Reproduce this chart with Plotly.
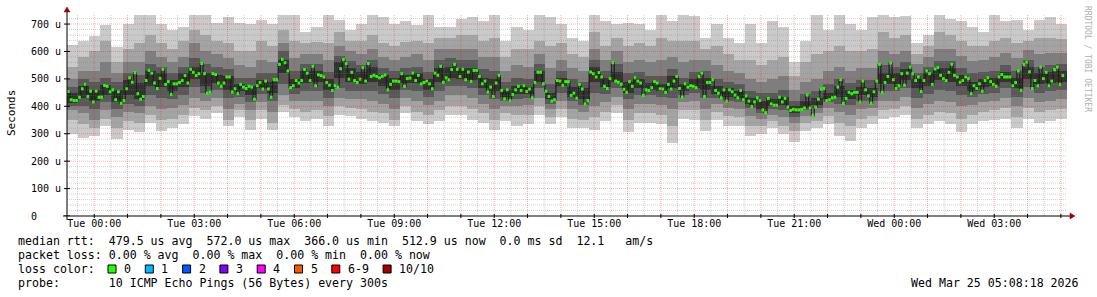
import plotly.graph_objects as go
from datetime import datetime, timedelta

# ---------------- data ----------------
START = datetime(2026, 3, 23, 23, 11, 0)
END = datetime(2026, 3, 25, 5, 11, 0)
STEP_MIN = 5          # one sample every 300 s
CHUNK = 4             # samples per smoke column

# median rtt per 5-minute sample (microseconds)
MEDIAN_US = [
    454, 424, 421, 421, 433, 464, 480, 436, 455, 416,
    455, 433, 433, 476, 473, 453, 460, 424, 453, 411,
    421, 464, 504, 488, 523, 446, 426, 436, 494, 531,
    521, 485, 465, 502, 535, 480, 490, 443, 482, 482,
    487, 494, 512, 485, 535, 524, 512, 519, 556, 519,
    448, 452, 519, 516, 485, 473, 485, 507, 507, 452,
    464,
    446, 480, 470, 465, 473, 470, 426, 475, 487, 463,
    492, 463, 433, 498, 498, 553, 571, 559, 529, 468,
    475, 494, 485, 494, 534, 521, 494, 546, 475, 515,
    512, 507, 487, 477, 458, 475, 470, 537, 571, 556,
    499, 524, 494, 487, 499, 541, 492, 556, 509, 513,
    509, 504, 509, 514, 460, 480, 492, 492, 490, 519,
    473, 501, 503, 521, 494, 513, 482, 487, 492, 482,
    464, 521, 513, 546, 488, 504, 497, 534, 553, 535,
    509, 535, 497, 525, 491, 531, 531, 509, 482, 492,
    452, 470, 436, 485, 513, 458, 427, 460, 421, 443,
    460, 473, 458, 475, 454, 463, 431, 487, 524, 524,
    482, 455, 436, 419, 424, 494, 492, 477, 490, 490,
    440,
    448, 430, 480, 463, 409, 421, 525, 519, 507, 523,
    507, 473, 465, 501, 559, 492, 488, 480, 462, 451,
    490, 473, 504, 492, 485, 440, 460, 458, 468, 490,
    485, 464, 463, 451, 480, 463, 492, 509, 465, 433,
    482, 470, 475, 473, 468, 509, 521, 436, 487, 487,
    497, 458, 448, 431, 460, 419, 460, 453, 441, 431,
    458, 424, 438, 419, 399, 416, 431, 421, 387, 377,
    429, 409, 404, 404, 433, 416, 429, 397, 385, 389,
    387, 387, 389, 394, 441, 394, 365, 397, 426, 463,
    465, 421, 424, 431, 433, 470, 497, 411, 429, 451,
    446, 451, 451, 416, 492, 460, 438, 411, 453, 492,
    553, 451, 487, 509, 558, 497, 465, 475, 519, 477,
    521,
    543, 519, 494, 507, 454, 494, 529, 519, 480, 536,
    541, 513, 501, 494, 524, 553, 513, 507, 488, 494,
    507, 501, 446, 475, 465, 482, 455, 494, 504, 490,
    480, 473, 507, 516, 507, 507, 507, 475, 487, 529,
    458, 553, 561, 526, 465, 494, 475, 543, 501, 524,
    475, 492, 534, 543, 480, 512,
]

# sorted ping values per 20-minute column (microseconds): p1 (min) ... p10 (max)
SMOKE_P1 = [300, 285, 290, 330, 280, 315, 305, 340, 310, 320, 335, 365, 355, 375, 330,
            360, 315, 355, 315, 380, 360, 345, 355, 330, 370, 365, 355, 345, 340, 330,
            375, 345, 335, 345, 370, 370, 350, 340, 315, 345, 330, 335, 370, 335, 360,
            320, 320, 315, 345, 375, 305, 340, 340, 335, 268, 355, 350, 310, 350, 330,
            330, 290, 300, 320, 300, 270, 310, 320, 335, 290, 275, 320, 335, 355, 360,
            370, 320, 335, 345, 335, 305, 335, 345, 350, 355, 320, 355, 340, 345, 355]
SMOKE_P2 = [350, 335, 320, 355, 320, 345, 340, 370, 350, 355, 370, 395, 385, 400, 350,
            385, 350, 385, 340, 405, 390, 380, 385, 365, 400, 395, 390, 380, 375, 350,
            400, 380, 370, 385, 400, 400, 390, 375, 350, 375, 370, 370, 400, 360, 390,
            355, 350, 360, 380, 405, 350, 375, 375, 370, 330, 385, 385, 350, 380, 365,
            360, 330, 330, 345, 330, 310, 340, 345, 365, 340, 330, 355, 365, 385, 390,
            400, 355, 370, 380, 375, 355, 370, 380, 385, 395, 360, 395, 380, 385, 390]
SMOKE_P3 = [385, 375, 350, 385, 360, 380, 375, 400, 390, 395, 405, 430, 420, 430, 390,
            410, 385, 415, 380, 440, 420, 420, 420, 400, 430, 425, 425, 420, 410, 390,
            430, 420, 405, 420, 440, 440, 430, 410, 390, 400, 400, 405, 430, 390, 420,
            390, 380, 400, 415, 435, 390, 410, 410, 405, 390, 415, 420, 390, 410, 395,
            390, 365, 355, 370, 360, 340, 365, 375, 395, 380, 370, 390, 395, 420, 420,
            435, 395, 410, 420, 415, 400, 405, 415, 420, 430, 400, 430, 415, 420, 425]
SMOKE_P4 = [400, 400, 390, 415, 390, 410, 400, 440, 430, 425, 440, 470, 450, 460, 430,
            435, 415, 445, 420, 480, 445, 455, 455, 430, 465, 455, 455, 455, 445, 430,
            460, 455, 435, 455, 475, 475, 465, 440, 425, 420, 425, 430, 465, 410, 450,
            420, 405, 450, 445, 465, 425, 440, 440, 435, 430, 440, 450, 430, 430, 420,
            415, 395, 375, 390, 385, 360, 385, 395, 415, 410, 405, 420, 420, 455, 455,
            465, 430, 445, 460, 455, 440, 435, 445, 450, 465, 435, 470, 450, 455, 460]
SMOKE_P5 = [412, 430, 420, 440, 415, 440, 425, 475, 470, 455, 470, 500, 475, 485, 460,
            455, 440, 465, 450, 520, 465, 485, 490, 460, 505, 490, 480, 490, 475, 460,
            485, 485, 460, 490, 505, 500, 495, 465, 455, 435, 445, 445, 490, 425, 475,
            435, 425, 490, 470, 490, 450, 465, 460, 455, 465, 455, 465, 460, 445, 435,
            430, 410, 390, 400, 405, 375, 395, 405, 425, 435, 425, 440, 435, 480, 480,
            495, 465, 475, 495, 490, 475, 455, 470, 475, 490, 465, 500, 480, 485, 490]
SMOKE_P6 = [450, 475, 460, 478, 460, 495, 485, 530, 520, 495, 520, 545, 520, 515, 510,
            480, 475, 495, 490, 570, 500, 530, 530, 500, 560, 540, 525, 545, 515, 505,
            515, 520, 500, 540, 545, 540, 540, 505, 500, 460, 475, 470, 530, 450, 505,
            470, 465, 545, 505, 525, 490, 500, 485, 480, 510, 480, 500, 505, 475, 465,
            455, 430, 420, 425, 435, 400, 420, 430, 450, 475, 460, 470, 465, 520, 520,
            535, 500, 520, 540, 540, 515, 490, 500, 505, 525, 505, 545, 520, 525, 530]
SMOKE_P7 = [470, 500, 490, 505, 490, 520, 515, 555, 545, 520, 545, 575, 555, 545, 535,
            505, 505, 520, 520, 600, 530, 555, 555, 525, 585, 565, 550, 570, 540, 530,
            540, 545, 525, 570, 575, 570, 570, 535, 530, 490, 505, 500, 555, 480, 530,
            500, 490, 570, 530, 555, 520, 525, 510, 510, 535, 505, 525, 530, 500, 490,
            480, 455, 450, 450, 460, 420, 445, 455, 480, 500, 485, 495, 495, 550, 545,
            560, 520, 545, 565, 565, 540, 520, 525, 530, 550, 530, 570, 545, 550, 555]
SMOKE_P8 = [500, 530, 530, 560, 520, 560, 560, 600, 580, 560, 580, 630, 600, 590, 575,
            550, 545, 570, 560, 630, 575, 590, 590, 570, 620, 600, 590, 610, 580, 570,
            580, 590, 570, 610, 610, 610, 610, 580, 580, 530, 550, 545, 590, 540, 570,
            540, 530, 610, 570, 600, 560, 570, 560, 570, 580, 560, 570, 570, 550, 530,
            520, 500, 490, 500, 510, 460, 490, 500, 530, 545, 530, 540, 540, 600, 590,
            600, 555, 580, 610, 610, 585, 565, 570, 580, 595, 575, 605, 590, 595, 595]
SMOKE_P9 = [545, 580, 600, 640, 560, 610, 630, 660, 630, 610, 640, 680, 660, 640, 630,
            600, 600, 640, 620, 680, 640, 630, 635, 630, 670, 640, 640, 660, 630, 620,
            635, 640, 630, 650, 650, 660, 660, 640, 650, 580, 610, 610, 640, 620, 630,
            590, 580, 670, 620, 650, 620, 630, 620, 650, 640, 640, 640, 610, 620, 590,
            570, 570, 550, 570, 580, 510, 560, 590, 600, 620, 600, 600, 610, 670, 650,
            660, 590, 620, 670, 660, 640, 620, 620, 640, 650, 630, 640, 650, 650, 645]
SMOKE_P10 = [625, 640, 655, 695, 615, 700, 740, 740, 700, 680, 690, 740, 740, 705, 725,
             705, 700, 715, 700, 735, 740, 670, 690, 735, 715, 680, 700, 740, 725, 700,
             710, 695, 735, 690, 690, 720, 725, 710, 740, 640, 690, 680, 735, 725, 700,
             650, 640, 740, 710, 700, 705, 700, 680, 740, 710, 740, 730, 650, 700, 650,
             630, 700, 630, 710, 690, 560, 640, 740, 680, 735, 700, 680, 725, 740, 725,
             730, 630, 660, 735, 720, 710, 690, 670, 740, 710, 715, 680, 715, 725, 700]

Y_TICKS = [0, 100, 200, 300, 400, 500, 600, 700]
Y_TICK_LABELS = ["0", "100 u", "200 u", "300 u", "400 u", "500 u", "600 u", "700 u"]
Y_MAX = 733

X_TICK_TIMES = ["2026-03-24 00:00", "2026-03-24 03:00", "2026-03-24 06:00", "2026-03-24 09:00",
                "2026-03-24 12:00", "2026-03-24 15:00", "2026-03-24 18:00", "2026-03-24 21:00",
                "2026-03-25 00:00", "2026-03-25 03:00"]
X_TICK_LABELS = ["Tue 00:00", "Tue 03:00", "Tue 06:00", "Tue 09:00", "Tue 12:00",
                 "Tue 15:00", "Tue 18:00", "Tue 21:00", "Wed 00:00", "Wed 03:00"]

LOSS_LABELS = ["0", "1", "2", "3", "4", "5", "6-9", "10/10"]
LOSS_COLORS = ["#26ff00", "#00b8ff", "#0059ff", "#7e00ff", "#ff00ff", "#ff5500", "#ff0000", "#a10000"]

LINE_RTT = "median rtt:  479.5 us avg  572.0 us max  366.0 us min  512.9 us now  0.0 ms sd  12.1   am/s"
LINE_LOSS = "packet loss: 0.00 % avg  0.00 % max  0.00 % min  0.00 % now"
LINE_PROBE = "probe:       10 ICMP Echo Pings (56 Bytes) every 300s"
STAMP = "Wed Mar 25 05:08:18 2026"

# ---------------- style ----------------
SMOKE_GREYS = ["#cacaca", "#a4a4a4", "#7e7e7e", "#585858", "#323232"]
MONO = "DejaVu Sans Mono"
W, H = 1097, 297
L, R, T, B = 67, 30, 15, 81
PW, PH = W - L - R, H - T - B
GRID_MAJOR = "rgba(255,0,0,0.32)"
GRID_MINOR = "rgba(128,128,128,0.36)"


def PX(px):
    return (px - L) / PW


def PY(py):
    return (T + PH - py) / PH


def nb(s):
    return s.replace(" ", "\u00a0")


step = timedelta(minutes=STEP_MIN)
smoke = [SMOKE_P1, SMOKE_P2, SMOKE_P3, SMOKE_P4, SMOKE_P5,
         SMOKE_P6, SMOKE_P7, SMOKE_P8, SMOKE_P9, SMOKE_P10]
n_chunks = len(SMOKE_P1)
chunk_x = [START + step * (c * CHUNK + CHUNK / 2) for c in range(n_chunks)]
chunk_w = CHUNK * STEP_MIN * 60 * 1000

fig = go.Figure()
for k in range(5):
    lo = smoke[k]
    hi = smoke[9 - k]
    fig.add_trace(go.Bar(
        x=chunk_x, y=[h - l for h, l in zip(hi, lo)], base=lo, width=chunk_w,
        marker=dict(color=SMOKE_GREYS[k], line=dict(width=0)), hoverinfo="skip"))

# dark step outline of the median (the narrow p5..p6 core)
sample_x = [START + step * (i + 0.5) for i in range(len(MEDIAN_US))]
fig.add_trace(go.Scatter(x=sample_x, y=MEDIAN_US, mode="lines",
                         line=dict(color="#1e1e1e", width=1.3, shape="hvh"), hoverinfo="skip"))

# green median dashes, one per sample (loss 0)
dash_x, dash_y = [], []
for i, m in enumerate(MEDIAN_US):
    dash_x += [START + step * i, START + step * (i + 1), None]
    dash_y += [m, m, None]
fig.add_trace(go.Scatter(x=dash_x, y=dash_y, mode="lines", connectgaps=False,
                         line=dict(color=LOSS_COLORS[0], width=3), hoverinfo="skip"))

shapes = []
# grid (drawn over the smoke, like rrdtool)
for v in range(20, Y_MAX, 20):
    major = v % 100 == 0
    shapes.append(dict(type="line", xref="paper", yref="y", x0=0, x1=1, y0=v, y1=v, layer="above",
                       line=dict(color=GRID_MAJOR if major else GRID_MINOR, width=1, dash="1px,1px")))
t = START.replace(minute=0) + timedelta(minutes=30)
while t < END:
    major = t.minute == 0
    shapes.append(dict(type="line", xref="x", yref="paper", x0=t, x1=t, y0=0, y1=1, layer="above",
                       line=dict(color=GRID_MAJOR if major else GRID_MINOR, width=1, dash="1px,1px")))
    if major:
        shapes.append(dict(type="line", xref="x", yref="paper", x0=t, x1=t, y0=PY(218), y1=PY(214),
                           layer="above", line=dict(color="black", width=1)))
    t += timedelta(minutes=30)
# axes
shapes.append(dict(type="line", xref="paper", yref="paper", x0=PX(63), x1=PX(1071), y0=PY(216), y1=PY(216),
                   layer="above", line=dict(color="black", width=1)))
shapes.append(dict(type="line", xref="paper", yref="paper", x0=PX(67), x1=PX(67), y0=PY(220), y1=PY(11),
                   layer="above", line=dict(color="black", width=1)))
for v in Y_TICKS:
    shapes.append(dict(type="line", xref="paper", yref="y", x0=PX(64), x1=PX(70), y0=v, y1=v,
                       layer="above", line=dict(color="black", width=1)))
shapes.append(dict(type="path", xref="paper", yref="paper", layer="above",
                   path=f"M {PX(1070)},{PY(213)} L {PX(1070)},{PY(219)} L {PX(1075)},{PY(216)} Z",
                   fillcolor="#a00000", line=dict(color="#a00000", width=0.5)))
shapes.append(dict(type="path", xref="paper", yref="paper", layer="above",
                   path=f"M {PX(64)},{PY(12)} L {PX(70)},{PY(12)} L {PX(67)},{PY(7)} Z",
                   fillcolor="#a00000", line=dict(color="#a00000", width=0.5)))

ann = []
tf = dict(family=MONO, size=11.6, color="black")
for text, py in [(LINE_RTT, 241), (LINE_LOSS, 255), ("loss color:", 269), (LINE_PROBE, 283)]:
    ann.append(dict(text=nb(text), x=PX(16), y=PY(py), xref="paper", yref="paper",
                    xanchor="left", yanchor="middle", showarrow=False, font=tf))
ann.append(dict(text=nb(STAMP), x=PX(1081), y=PY(283), xref="paper", yref="paper",
                xanchor="right", yanchor="middle", showarrow=False, font=tf))
bx = 108
for lab, col in zip(LOSS_LABELS, LOSS_COLORS):
    shapes.append(dict(type="rect", xref="paper", yref="paper", x0=PX(bx), x1=PX(bx + 8),
                       y0=PY(273), y1=PY(265), fillcolor=col, line=dict(color="black", width=1),
                       layer="above"))
    ann.append(dict(text=nb(lab), x=PX(bx + 14), y=PY(269), xref="paper", yref="paper",
                    xanchor="left", yanchor="middle", showarrow=False, font=tf))
    bx = bx + 14 + len(lab) * 7 + 16.3
ann.append(dict(text="Seconds", x=PX(11), y=PY(113), xref="paper", yref="paper", textangle=-90,
                xanchor="center", yanchor="middle", showarrow=False,
                font=dict(family=MONO, size=11, color="black")))
ann.append(dict(text=nb("RRDTOOL / TOBI OETIKER"), x=PX(1088), y=PY(59), xref="paper", yref="paper",
                textangle=90, xanchor="center", yanchor="middle", showarrow=False,
                font=dict(family=MONO, size=8, color="#b0b0b0")))

fig.update_layout(
    width=W, height=H, margin=dict(l=L, r=R, t=T, b=B, pad=0),
    paper_bgcolor="white", plot_bgcolor="white", showlegend=False,
    barmode="overlay", bargap=0,
    shapes=shapes, annotations=ann,
    xaxis=dict(type="date", range=[START, END], showgrid=False, zeroline=False, showline=False,
               tickvals=X_TICK_TIMES, ticktext=X_TICK_LABELS, ticks="",
               tickfont=dict(family=MONO, size=10, color="black"), fixedrange=True),
    yaxis=dict(range=[0, Y_MAX], showgrid=False, zeroline=False, showline=False,
               tickvals=Y_TICKS, ticktext=[lab + ("\u00a0" * 4 if lab == "0" else "") for lab in Y_TICK_LABELS],
               ticks="outside", ticklen=3, tickcolor="rgba(0,0,0,0)",
               tickfont=dict(family=MONO, size=10, color="black"), fixedrange=True),
)

fig.write_html("out.html", config={"displayModeBar": False})
